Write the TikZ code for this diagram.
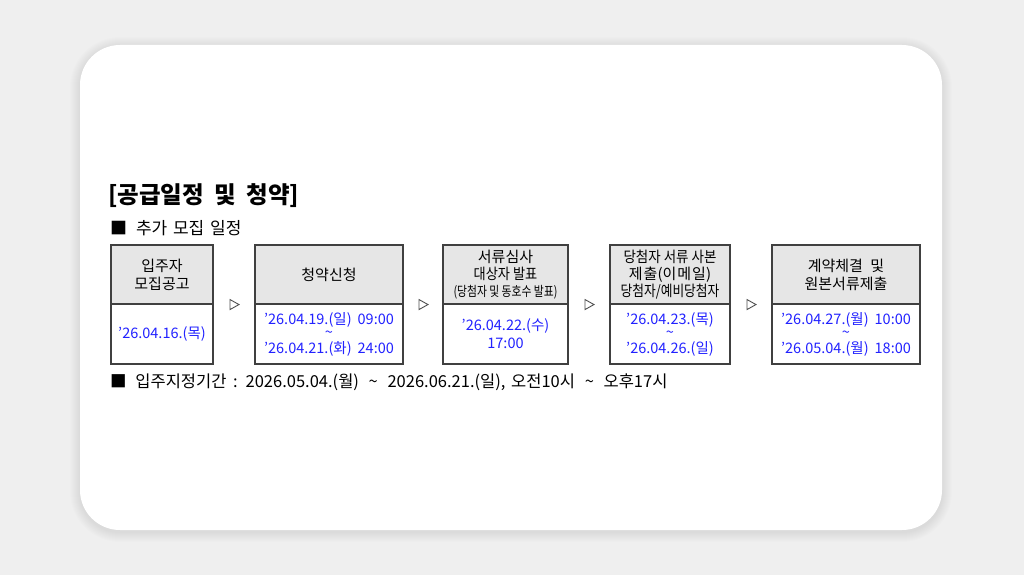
\documentclass[tikz,border=0pt]{standalone}
\usepackage{fontspec}
\usepackage{graphicx}
\setmainfont{Noto Sans CJK KR}
\definecolor{bgc}{HTML}{EFEFEF}
\definecolor{bordc}{HTML}{404040}
\definecolor{headc}{HTML}{E6E6E6}
\definecolor{dateblue}{HTML}{2222FF}
\definecolor{tric}{HTML}{505050}
\tikzset{
  headbox/.style={draw=bordc, fill=headc, line width=1.1pt, minimum height=59pt, inner sep=0pt, align=center, font=\fontsize{15}{18}\selectfont},
  bodybox/.style={draw=bordc, fill=white, line width=1.1pt, minimum height=60pt, inner sep=0pt, align=center, text=dateblue, font=\fontsize{14.5}{14.5}\selectfont},
  trimark/.style={draw=tric, line width=0.9pt, fill=white, line join=miter},
  plain/.style={anchor=west, inner sep=0pt}
}
\newcommand{\tl}{\raisebox{1pt}{\textasciitilde}}
\begin{document}
\begin{tikzpicture}[x=1pt,y=-1pt]
\useasboundingbox (0,0) rectangle (1024,575);
\fill[bgc] (0,0) rectangle (1024,575);
\foreach \i in {1,...,10}{
  \fill[black,opacity=0.006,rounded corners=40+\i] (80-\i,45-\i+2) rectangle (942+\i,530+\i+2);
}
\fill[white,rounded corners=40] (80,45) rectangle (942,530);

\node[plain, font=\fontsize{23.5}{26}\selectfont\bfseries] (title) at (108,196) {[공급일정\hspace{5pt} 및\hspace{5pt} 청약]};
\node[plain, font=\fontsize{17}{20}\selectfont] (sub) at (110,228) {■\hspace{5pt} 추가\hspace{2pt} 모집\hspace{2pt} 일정};

% boxes
\node[headbox, minimum width=102pt] (h1) at (162,274.5) {입주자\\모집공고};
\node[bodybox, minimum width=102pt] (b1) at (162,334) {'26.04.16.(목)};

\node[headbox, minimum width=148pt] (h2) at (329,274.5) {청약신청};
\node[bodybox, minimum width=148pt] (b2) at (329,334) {'26.04.19.(일)\hspace{6pt}09:00\\\tl\\'26.04.21.(화)\hspace{6pt}24:00};

\node[headbox, minimum width=125pt, font=\fontsize{15}{17}\selectfont] (h3) at (505.5,274.5) {서류심사\\\scalebox{0.88}[1]{\fontsize{15}{17}\selectfont 대상자 발표}\\\scalebox{0.8}[1]{\fontsize{13.5}{17}\selectfont (당첨자 및 동호수 발표)}};
\node[bodybox, minimum width=125pt, font=\fontsize{14.5}{18}\selectfont] (b3) at (505.5,334) {'26.04.22.(수)\\17:00};

\node[headbox, minimum width=120pt, font=\fontsize{15}{17}\selectfont] (h4) at (670,274.5) {\scalebox{0.9}[1]{당첨자 서류 사본}\\제\hspace{1pt}출(이\hspace{1pt}메\hspace{1pt}일)\\\scalebox{0.85}[1]{당첨자/예비당첨자}};
\node[bodybox, minimum width=120pt] (b4) at (670,334) {'26.04.23.(목)\\\tl\\'26.04.26.(일)};

\node[headbox, minimum width=148pt] (h5) at (846,274.5) {계약체결\hspace{4pt} 및\\원본서류제출};
\node[bodybox, minimum width=148pt] (b5) at (846,334) {'26.04.27.(월)\hspace{6pt}10:00\\\tl\\'26.05.04.(월)\hspace{6pt}18:00};

% arrow marks
\foreach \a/\b in {h1/h2,h2/h3,h3/h4,h4/h5}{
  \path (\a.south east) -- (\b.south west) coordinate[midway] (m\a);
  \draw[trimark] (m\a) ++(-4,-5) -- ++(9,5) -- ++(-9,5) -- cycle;
}

\node[plain, font=\fontsize{16.5}{18}\selectfont] (period) at (110,382) {■\hspace{5pt} 입주지정기간\hspace{3pt} :\hspace{3pt} 2026.05.04.(월)\hspace{6pt} \textasciitilde\hspace{6pt} 2026.06.21.(일),\hspace{2pt} 오전10시\hspace{6pt} \textasciitilde\hspace{6pt} 오후17시};
\end{tikzpicture}
\end{document}
